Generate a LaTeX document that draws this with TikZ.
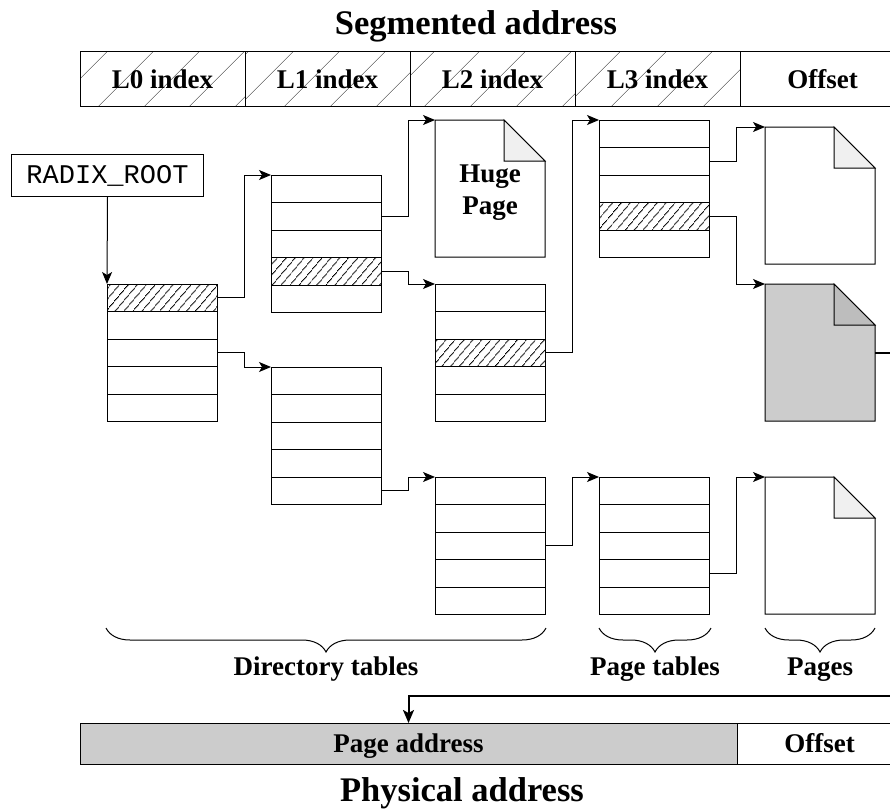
\documentclass[tikz,border=0pt]{standalone}
\usepackage{fontspec}
\setmainfont{Liberation Serif}
\setmonofont{Liberation Mono}
\usetikzlibrary{calc,arrows.meta,patterns.meta,decorations.pathreplacing}
\definecolor{pagegray}{HTML}{CCCCCC}
\definecolor{foldgray}{HTML}{BDBDBD}
\definecolor{foldlight}{HTML}{F0F0F0}
\tikzset{
  cell/.style={draw, line width=1pt, minimum width=110pt, minimum height=27.5pt, inner sep=0pt, outer sep=0pt},
  hatchcell/.style={line width=1pt, pattern={Lines[angle=50,distance=6.5pt,line width=0.8pt]}},
  hatchbar/.style={pattern={Lines[angle=45,distance=33pt,line width=0.5pt]}, pattern color=black!75},
  pagebox/.style={minimum width=110pt, minimum height=137pt, inner sep=0pt, outer sep=0pt},
  pagetext/.style={inner sep=0pt, align=center, font=\fontsize{27}{32}\selectfont\bfseries},
  field/.style={draw, line width=1pt, minimum width=165pt, minimum height=54pt, inner sep=0pt, outer sep=0pt,
                text height=18pt, text depth=0pt, font=\fontsize{27}{30}\selectfont\bfseries},
  lbl/.style={inner sep=0pt, font=\fontsize{27}{30}\selectfont\bfseries},
  title/.style={inner sep=0pt, font=\fontsize{34.5}{38}\selectfont\bfseries},
  conn/.style={line width=1pt, -{Stealth[length=12pt,width=10pt,inset=3pt]}},
  bigconn/.style={line width=2pt, -{Stealth[length=13pt,width=11pt,inset=3pt]}},
  brc/.style={line width=1pt, decorate, decoration={brace, mirror, amplitude=24pt}},
}
% table of five entries, name / top left corner / hatched entry (0 = none)
\def\pgtable(#1)(#2,#3)(#4){%
  \foreach \r in {1,...,5}
    \node[cell, anchor=north west] (#1-\r) at (#2, {#3+27.5*(\r-1)}) {};
  \ifnum#4>0 \draw[hatchcell] (#1-#4.north west) rectangle (#1-#4.south east); \fi
}
% page with folded corner, name / top left corner / fill / fold fill
\def\pgpage(#1)(#2,#3)[#4][#5]{%
  \draw[line width=1pt, fill=#4] (#2,#3) -- ({#2+69},#3) -- ({#2+110},{#3+41}) -- ({#2+110},{#3+137}) -- (#2,{#3+137}) -- cycle;
  \draw[line width=1pt, fill=#5] ({#2+69},#3) -- ({#2+69},{#3+41}) -- ({#2+110},{#3+41}) -- cycle;
  \node[pagebox, anchor=north west] (#1) at (#2,#3) {};
}

\begin{document}
\begin{tikzpicture}[x=1pt, y=-1pt]
	%%%%% START %%%%%
	\useasboundingbox (0,0) rectangle (890,808);

	% segmented address
	\node[title, anchor=base] (segtitle) at (476,35) {Segmented address};
	\node[field, hatchbar, anchor=north west] (l0) at (80,52) {L0 index};
	\node[field, hatchbar, anchor=north west] (l1) at (245,52) {L1 index};
	\node[field, hatchbar, anchor=north west] (l2) at (410,52) {L2 index};
	\node[field, hatchbar, anchor=north west] (l3) at (575,52) {L3 index};
	\node[field, anchor=north west] (segoff) at (740,52) {Offset};

	\node[draw, line width=1pt, minimum width=192pt, minimum height=42pt, inner sep=0pt,
	      font=\ttfamily\fontsize{27}{30}\selectfont, anchor=north west] (root) at (11,154) {RADIX\_ROOT};

	% tables
	\pgtable(t1)(107,284)(1)
	\pgtable(t2)(271,175)(4)
	\pgtable(t3)(271,367)(0)
	\pgtable(t4)(435,284)(3)
	\pgtable(t5)(599,120)(4)
	\pgtable(t6)(435,477)(0)
	\pgtable(t7)(599,477)(0)

	% pages
	\pgpage(huge)(435,120)[white][foldlight]
	\node[pagetext] (hugetxt) at ([yshift=-4pt]huge.center) {Huge\\Page};
	\pgpage(p1)(765,127)[white][foldlight]
	\pgpage(p2)(765,284)[pagegray][foldgray]
	\pgpage(p3)(765,477)[white][foldlight]

	% links
	\draw[conn] (root.south) -- (t1-1.north west);
	\draw[conn] (t1-1.east) -- ++(27,0) |- (t2-1.north west);
	\draw[conn] (t1-3.east) -- ++(27,0) |- (t3-1.north west);
	\draw[conn] (t2-2.east) -- ++(27,0) |- (huge.north west);
	\draw[conn] (t2-4.east) -- ++(27,0) |- (t4-1.north west);
	\draw[conn] (t3-5.east) -- ++(27,0) |- (t6-1.north west);
	\draw[conn] (t4-3.east) -- ++(27,0) |- (t5-1.north west);
	\draw[conn] (t5-2.east) -- ++(27,0) |- (p1.north west);
	\draw[conn] (t5-4.east) -- ++(27,0) |- (p2.north west);
	\draw[conn] (t6-3.east) -- ++(27,0) |- (t7-1.north west);
	\draw[conn] (t7-4.east) -- ++(27,0) |- (p3.north west);

	% groups
	\draw[brc] (106,628) -- (546,628);
	\draw[brc] (599,628) -- (711,628);
	\draw[brc] (765,628) -- (875,628);
	\node[lbl, anchor=base] (dirlbl) at (326,675) {Directory tables};
	\node[lbl, anchor=base] (ptlbl) at (655,675) {Page tables};
	\node[lbl, anchor=base] (pglbl) at (820,675) {Pages};

	% physical address
	\node[field, fill=pagegray, minimum width=657pt, minimum height=41pt, anchor=north west] (paddr) at (80,723) {Page address};
	\node[field, minimum height=41pt, anchor=north west] (poff) at (737,723) {Offset};
	\node[title, anchor=base] (phystitle) at (462,801) {Physical address};

	\coordinate (bend) at (905,696);
	\draw[bigconn] (p2.east) -| (bend) -| (paddr.north);
	%%%%% END %%%%%
\end{tikzpicture}
\end{document}
